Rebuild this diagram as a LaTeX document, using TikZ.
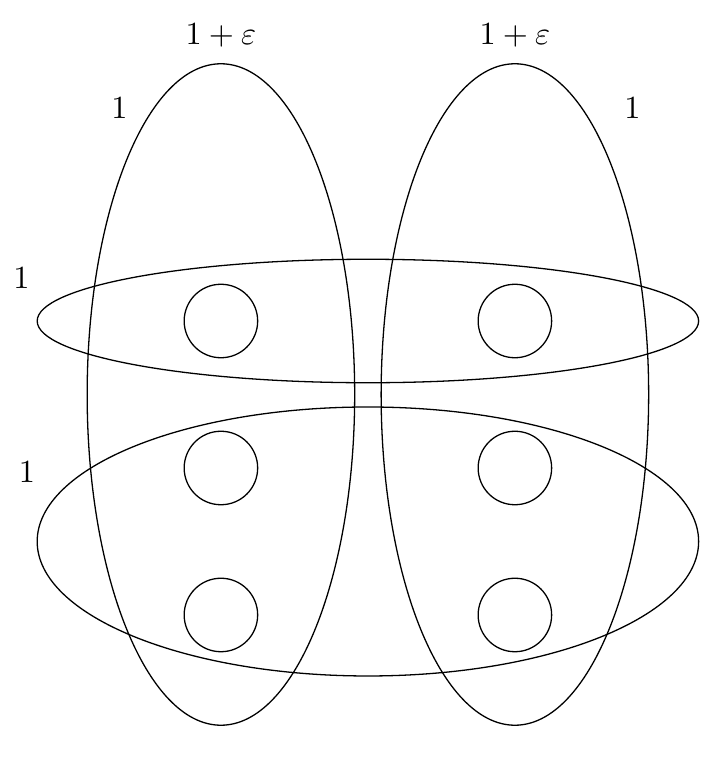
\documentclass[tikz,border=0pt]{standalone}
\begin{document}
\begin{tikzpicture}[x=1.6cm,y=1.6cm]
    \useasboundingbox (-1.503,-2.973) rectangle (3.333,2.184);
    \foreach \x in {0,2}
    \foreach \y in {0,1,2}
    \node[draw,circle,minimum size=0.8cm,inner sep=0pt] (c\x\y) at (\x,-\y) {};
    \foreach \x in {0,2}
    \draw (\x,-0.5) ellipse (0.91 and 2.25);
    \draw (1,0) ellipse (2.25 and 0.42);
    \draw (1,-1.5) ellipse (2.25 and 0.915);
    \node (eL) at (0,1.94) {$1+\varepsilon$};
    \node (eR) at (2,1.94) {$1+\varepsilon$};
    \node (wL) at (-0.69,1.45) {$1$};
    \node (wR) at (2.8,1.45) {$1$};
    \node (wT) at (-1.357,0.29) {$1$};
    \node (wB) at (-1.32,-1.03) {$1$};
\end{tikzpicture}
\end{document}
